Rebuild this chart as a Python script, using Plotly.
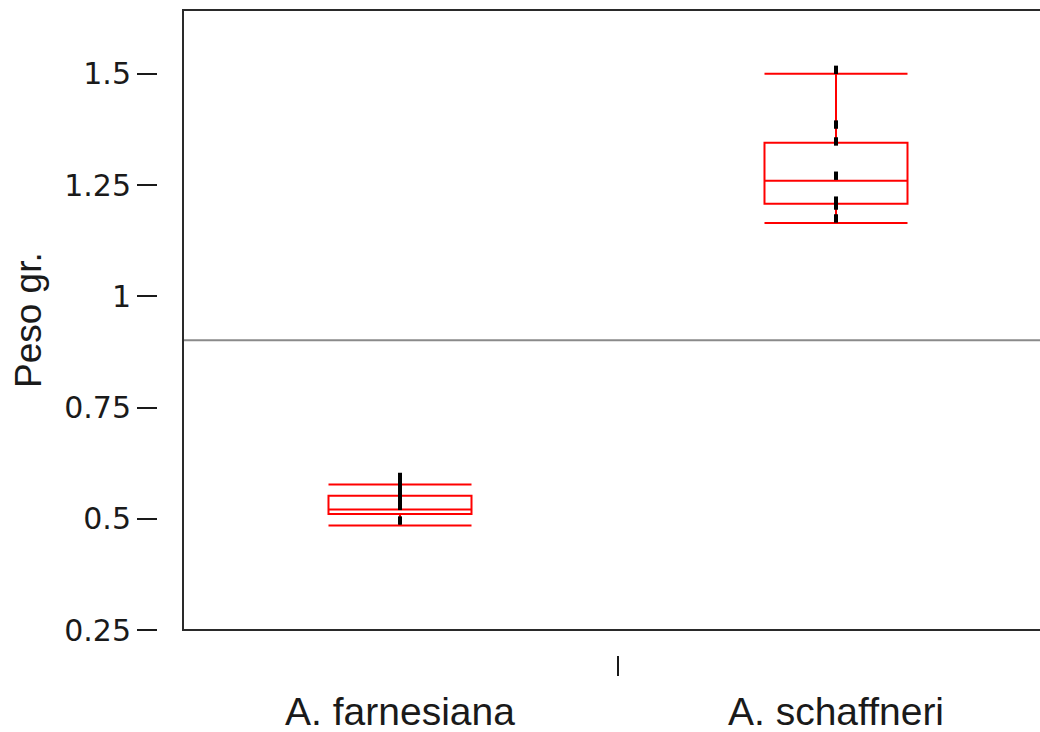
import plotly.graph_objects as go

# ---- data ----
species = ["A. farnesiana", "A. schaffneri"]
q1 = [0.511, 1.208]
median = [0.521, 1.260]
q3 = [0.552, 1.345]
lower_cap = [0.485, 1.165]
upper_cap = [0.577, 1.500]

pts_farnesiana = [0.594, 0.585, 0.574, 0.563, 0.549, 0.538, 0.529, 0.496]
pts_schaffneri = [1.509, 1.386, 1.348, 1.271, 1.215, 1.204, 1.175]

grand_mean = 0.901

y_tickvals = [0.25, 0.5, 0.75, 1.0, 1.25, 1.5]
y_ticktext = ["0.25", "0.5", "0.75", "1", "1.25", "1.5"]
y_title = "Peso gr."

W, H = 1040, 732
FONT = "Liberation Sans, Arial, sans-serif"
TICKFONT = "DejaVu Sans, Liberation Sans, sans-serif"

fig = go.Figure()

fig.add_trace(go.Box(
    x=species, q1=q1, median=median, q3=q3,
    lowerfence=lower_cap, upperfence=upper_cap,
    whiskerwidth=1, width=0.328,
    line=dict(color="#ff0000", width=2),
    fillcolor="rgba(0,0,0,0)",
    boxpoints=False, showlegend=False, hoverinfo="skip",
))

pts_x = [species[0]] * len(pts_farnesiana) + [species[1]] * len(pts_schaffneri)
pts_y = pts_farnesiana + pts_schaffneri
fig.add_trace(go.Scatter(
    x=pts_x, y=pts_y, mode="markers",
    marker=dict(symbol="line-ns", size=6, color="black",
                line=dict(color="black", width=4)),
    showlegend=False, hoverinfo="skip",
))

# grand mean line
fig.add_shape(type="line", xref="x domain", yref="y",
              x0=0, x1=1, y0=grand_mean, y1=grand_mean,
              line=dict(color="#8a8a8a", width=2))
# frame (left, top, bottom)
fig.add_shape(type="path", xref="x domain", yref="y domain",
              path="M 1.01,1 L 0,1 L 0,0 L 1.01,0",
              line=dict(color="#2a2a2a", width=2))

fig.add_annotation(text=y_title, xref="paper", yref="y domain",
                   x=28 / W, y=0.5, textangle=-90, showarrow=False,
                   font=dict(family=FONT, size=37, color="#1a1a1a"),
                   xanchor="center", yanchor="middle")

fig.update_layout(
    width=W, height=H,
    margin=dict(l=0, r=0, t=0, b=0, autoexpand=False),
    paper_bgcolor="white", plot_bgcolor="white",
    font=dict(family=FONT, color="#1a1a1a"),
    xaxis=dict(
        domain=[183 / W, 1.0],
        type="category",
        range=[-0.4977, 1.4679],
        anchor="free", position=(H - 655) / H,
        automargin=False,
        tickson="boundaries", ticks="outside", ticklen=20, tickwidth=2,
        tickcolor="#1a1a1a", ticklabelstandoff=30,
        tickfont=dict(family=FONT, size=39, color="#1a1a1a"),
        showline=False, showgrid=False, zeroline=False,
    ),
    yaxis=dict(
        domain=[(H - 630) / H, (H - 10) / H],
        range=[0.25, 1.6435],
        tickvals=y_tickvals, ticktext=y_ticktext,
        anchor="free", position=157 / W,
        automargin=False,
        ticks="outside", ticklen=20, tickwidth=2, tickcolor="#1a1a1a",
        tickfont=dict(family=TICKFONT, size=30, color="#1a1a1a"),
        showline=False, showgrid=False, zeroline=False,
    ),
)

fig.write_html("out.html")
